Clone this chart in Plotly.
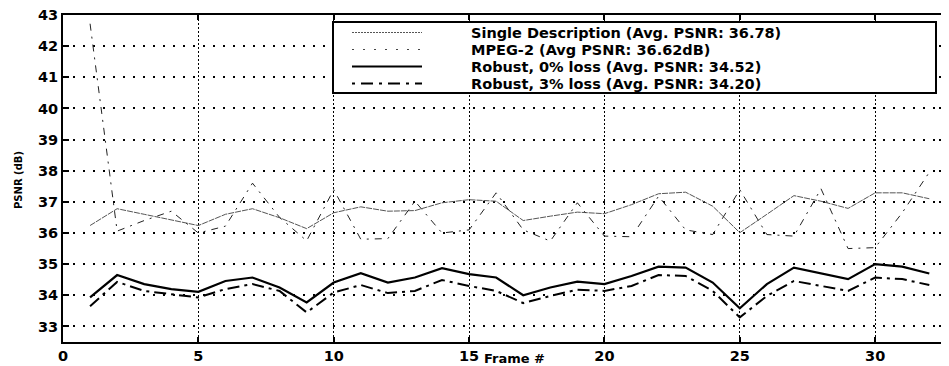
import plotly.graph_objects as go

frames = list(range(1, 33))

single_desc = [36.24, 36.78, 36.60, 36.43, 36.24, 36.60, 36.78, 36.49, 36.14, 36.65,
               36.84, 36.70, 36.72, 36.97, 37.07, 37.02, 36.40, 36.54, 36.67, 36.62,
               36.91, 37.26, 37.31, 36.86, 36.01, 36.60, 37.20, 37.02, 36.79, 37.29,
               37.29, 37.10]

mpeg2 = [42.72, 36.06, 36.40, 36.70, 36.00, 36.22, 37.60, 36.50, 35.75, 37.39,
         35.80, 35.82, 37.02, 36.00, 36.10, 37.29, 36.10, 35.74, 36.97, 35.90,
         35.88, 37.18, 36.10, 35.95, 37.39, 35.95, 35.90, 37.42, 35.50, 35.53,
         36.65, 37.95]

robust0 = [33.93, 34.65, 34.36, 34.20, 34.11, 34.46, 34.57, 34.25, 33.77, 34.41,
           34.71, 34.41, 34.57, 34.87, 34.68, 34.57, 34.00, 34.25, 34.44, 34.36,
           34.62, 34.92, 34.89, 34.41, 33.58, 34.36, 34.89, 34.70, 34.52, 35.00,
           34.92, 34.70]

robust3 = [33.65, 34.43, 34.14, 34.04, 33.93, 34.20, 34.36, 34.14, 33.45, 34.09,
           34.33, 34.07, 34.14, 34.49, 34.30, 34.14, 33.75, 33.98, 34.18, 34.14,
           34.30, 34.65, 34.62, 34.14, 33.29, 33.98, 34.46, 34.30, 34.14, 34.57,
           34.52, 34.33]

names = ["Single Description (Avg. PSNR: 36.78)",
         "MPEG-2 (Avg PSNR: 36.62dB)",
         "Robust, 0% loss (Avg. PSNR: 34.52)",
         "Robust, 3% loss (Avg. PSNR: 34.20)"]

x_ticks = [0, 5, 10, 15, 20, 25, 30]
y_ticks = list(range(33, 44))

styles = [
    dict(color="#555555", width=1, dash="6px,1px"),
    dict(color="#222222", width=1, dash="7px,6px,2px,6px"),
    dict(color="black", width=2.2),
    dict(color="black", width=2, dash="12px,5px,3px,5px"),
]
series = [single_desc, mpeg2, robust0, robust3]

fig = go.Figure()
for nm, ys, st in zip(names, series, styles):
    fig.add_trace(go.Scatter(x=frames, y=ys, name=nm, mode="lines", line=st,
                             showlegend=False))

# figure is offset by the page's 8px body margin, so size it to fit the window
W, H = 941, 358
ML, MR, MT, MB = 55, 4, 7, 24
pw, ph = W - ML - MR, H - MT - MB

def px(xf):
    return (xf - ML) / pw

def py(yf):
    return 1 - (yf - MT) / ph

shapes = []
annotations = []
# legend box
shapes.append(dict(type="rect", xref="paper", yref="paper",
                   x0=px(325), x1=px(928), y0=py(85), y1=py(14),
                   line=dict(color="black", width=2), fillcolor="white", layer="above"))
row_y = [24.5, 41.5, 58.5, 75.5]
legend_samples = [
    dict(color="#555555", width=1, dash="2px,1px"),
    dict(color="#444444", width=1, dash="2px,9px"),
    dict(color="black", width=2.2),
    dict(color="black", width=2, dash="3px,6px,12px,6px"),
]
for nm, st, ry in zip(names, legend_samples, row_y):
    shapes.append(dict(type="line", xref="paper", yref="paper",
                       x0=px(344), x1=px(414), y0=py(ry), y1=py(ry),
                       line=st, layer="above"))
    annotations.append(dict(text=nm, xref="paper", yref="paper",
                            x=px(461), y=py(ry), xanchor="left", yanchor="middle",
                            showarrow=False,
                            font=dict(family="DejaVu Sans", size=14.5, color="black",
                                      weight="bold")))

annotations.append(dict(text="Frame #", xref="paper", yref="paper",
                        x=px(506), y=py(350.3), xanchor="center", yanchor="middle",
                        showarrow=False,
                        font=dict(family="DejaVu Sans", size=13, color="black",
                                  weight="bold")))
annotations.append(dict(text="PSNR (dB)", xref="paper", yref="paper",
                        x=px(10), y=py(172), xanchor="center", yanchor="middle",
                        textangle=-90, showarrow=False,
                        font=dict(family="DejaVu Sans", size=10, color="black",
                                  weight="bold")))

axis_font = dict(family="DejaVu Sans", size=14.5, color="black", weight="bold")

fig.update_layout(
    width=W, height=H,
    margin=dict(l=ML, r=MR, t=MT, b=MB),
    plot_bgcolor="white", paper_bgcolor="white",
    font=dict(family="DejaVu Sans", color="black"),
    showlegend=False,
    shapes=shapes,
    annotations=annotations,
)
fig.update_xaxes(range=[0, 32.58], tickvals=x_ticks, ticks="inside", ticklen=5,
                 tickwidth=1.5, tickcolor="black", showline=True, linecolor="black",
                 linewidth=2, mirror="ticks", showgrid=True, gridcolor="black",
                 gridwidth=1.2, griddash="1.5px,2.5px", zeroline=False,
                 tickfont=axis_font, automargin=False, ticklabeloverflow="allow")
fig.update_yaxes(range=[32.5, 43], tickvals=y_ticks, ticks="inside", ticklen=6,
                 tickwidth=1.5, tickcolor="black", showline=True, linecolor="black",
                 linewidth=2, mirror="ticks", showgrid=True, gridcolor="black",
                 gridwidth=1.6, griddash="2px,8px", zeroline=False,
                 tickfont=axis_font, automargin=False, ticklabeloverflow="allow")

fig.write_html("out.html")
